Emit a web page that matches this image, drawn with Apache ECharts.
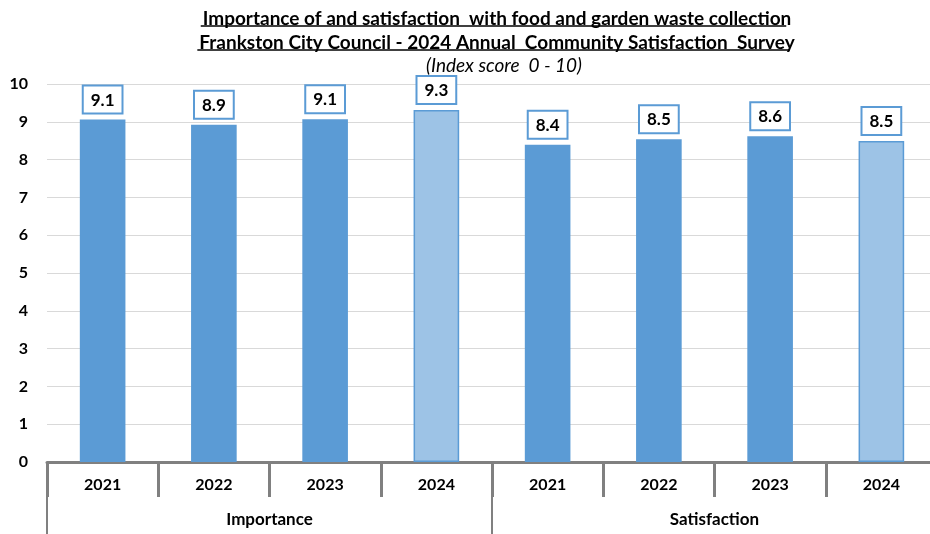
<!DOCTYPE html>
<html>
<head>
<meta charset="utf-8">
<script src="https://cdn.jsdelivr.net/npm/echarts@6/dist/echarts.min.js"></script>
<style>
html,body{margin:0;padding:0;background:#fff;overflow:hidden;width:930px;height:534px;}
#chart{width:940px;height:534px;}
</style>
</head>
<body>
<div id="chart"></div>
<script>
const years = ['2021','2022','2023','2024','2021','2022','2023','2024'];
const groups = ['Importance','Satisfaction'];
const values = [9.06, 8.92, 9.07, 9.31, 8.39, 8.54, 8.62, 8.49];
const highlight = [false,false,false,true,false,false,false,true];
const titleLines = [
  'Importance of and satisfaction  with food and garden waste collection',
  'Frankston City Council - 2024 Annual  Community Satisfaction  Survey'
];
const subTitle = '(Index score  0 - 10)';

const FONT = 'Lato';
const TSIZE = 19;
const chart = echarts.init(document.getElementById('chart'), null, {renderer:'canvas'});

// measure title widths for underline
const cv = document.createElement('canvas').getContext('2d');
cv.font = 'bold ' + TSIZE + 'px ' + FONT;
const w1 = cv.measureText(titleLines[0]).width;
const w2 = cv.measureText(titleLines[1]).width;
const cx = 492;

const option = {
  animation:false,
  backgroundColor:'#ffffff',
  title:[
    {text:titleLines[0], left:cx, textAlign:'center', top:4, textStyle:{fontFamily:FONT,fontWeight:'bold',fontSize:TSIZE,color:'#000'}},
    {text:titleLines[1], left:cx, textAlign:'center', top:28, textStyle:{fontFamily:FONT,fontWeight:'bold',fontSize:TSIZE,color:'#000'}},
    {text:subTitle, left:499, textAlign:'center', top:51, textStyle:{fontFamily:FONT,fontStyle:'italic',fontWeight:'normal',fontSize:19,color:'#000'}}
  ],
  graphic:[
    {type:'line', shape:{x1:cx-w1/2+3, y1:26, x2:cx+w1/2, y2:26}, style:{stroke:'#000', lineWidth:1.4}},
    {type:'line', shape:{x1:cx-w2/2+3, y1:50, x2:cx+w2/2, y2:50}, style:{stroke:'#000', lineWidth:1.4}}
  ],
  grid:{left:47, right:3, top:84, bottom:72, containLabel:false},
  xAxis:[
    {
      type:'category', data:years, position:'bottom',
      axisLine:{show:true, lineStyle:{color:'#808080', width:3}},
      axisTick:{show:true, length:35, lineStyle:{color:'#808080', width:3}},
      axisLabel:{color:'#000', fontFamily:FONT, fontWeight:'bold', fontSize:16, margin:15, interval:0},
      splitLine:{show:false}
    },
    {
      type:'category', data:groups, position:'bottom', offset:35,
      axisLine:{show:false},
      axisTick:{show:true, length:40, lineStyle:{color:'#808080', width:2}},
      axisLabel:{color:'#000', fontFamily:FONT, fontWeight:'bold', fontSize:17, margin:14, interval:0},
      splitLine:{show:false}
    }
  ],
  yAxis:{
    type:'value', min:0, max:10, interval:1,
    axisLine:{show:false}, axisTick:{show:false},
    axisLabel:{color:'#000', fontFamily:FONT, fontWeight:'bold', fontSize:16, margin:19},
    splitLine:{show:true, lineStyle:{color:'#d9d9d9', width:1}}
  },
  series:[{
    type:'bar', xAxisIndex:0, barWidth:'41%',
    data: values.map((v,i)=>({
      value:v,
      itemStyle: highlight[i]
        ? {color:'#9dc3e6', borderColor:'#5b9bd5', borderWidth:1.5}
        : {color:'#5b9bd5'}
    })),
    label:{
      show:true, position:'top', distance:7,
      formatter:p=>p.value.toFixed(1),
      color:'#000', fontFamily:FONT, fontWeight:'bold', fontSize:17,
      backgroundColor:'#fff', borderColor:'#5b9bd5', borderWidth:2,
      padding:[5,7,4,7]
    }
  }]
};
chart.setOption(option);
</script>
</body>
</html>
